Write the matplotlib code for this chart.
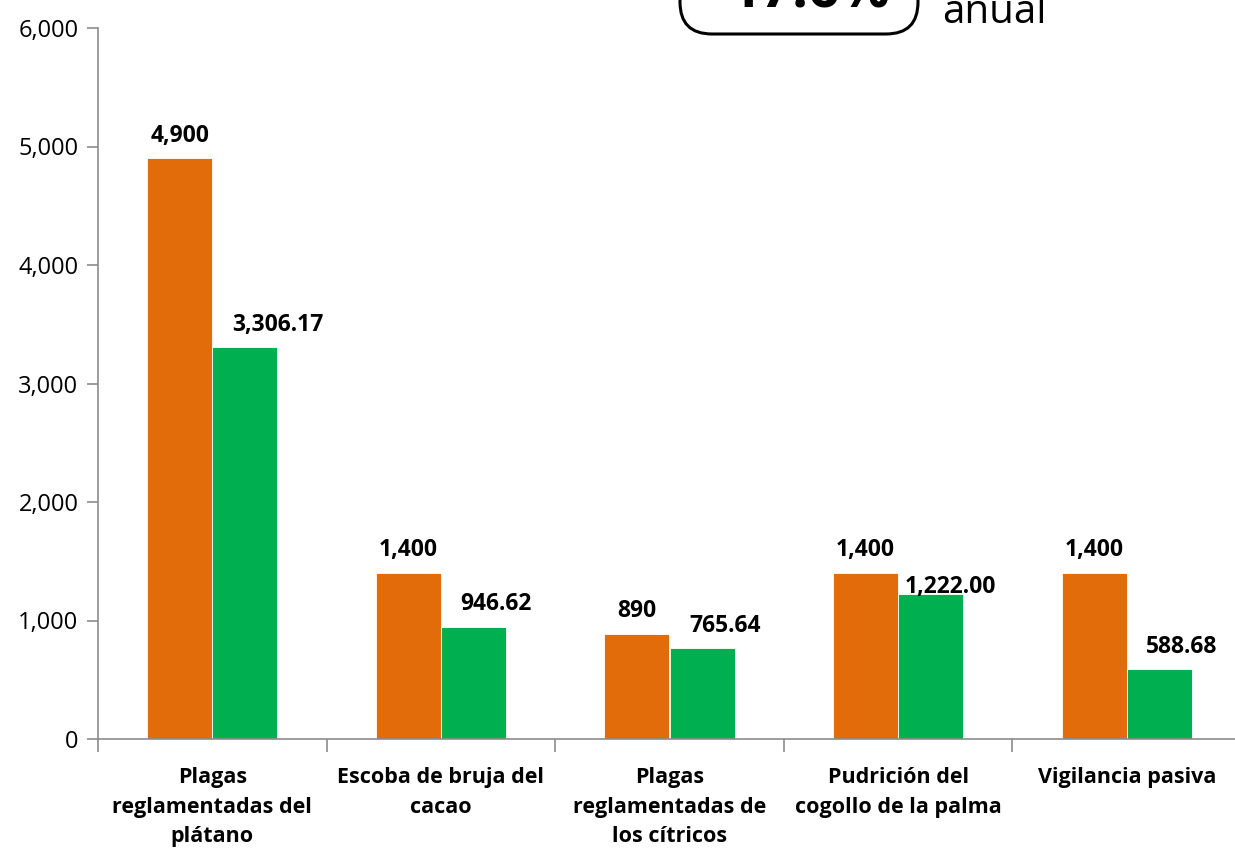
import numpy as np
import matplotlib
matplotlib.use("Agg")
import matplotlib.pyplot as plt
from matplotlib.patches import FancyBboxPatch

plt.rcParams['font.family'] = ['Open Sans', 'DejaVu Sans']

# Data
categorias = [
    "Plagas\nreglamentadas del\nplátano",
    "Escoba de bruja del\ncacao",
    "Plagas\nreglamentadas de\nlos cítricos",
    "Pudrición del\ncogollo de la palma",
    "Vigilancia pasiva",
]
programado = [4900, 1400, 890, 1400, 1400]
ejecutado = [3306.17, 946.62, 765.64, 1222.00, 588.68]
y_ticks = [0, 1000, 2000, 3000, 4000, 5000, 6000]
box_text = "17.6%"
side_text = "anual"

naranja = '#E36C0A'
verde = '#00B050'
gris = '#8c8c8c'

fig = plt.figure(figsize=(12.35, 8.51), dpi=100)
ax = fig.add_axes([98 / 1235, 1 - 739 / 851, 1143 / 1235, 711 / 851])

x = np.arange(len(categorias))
w = 0.285
ax.bar(x - w / 2, programado, width=w, color=naranja, edgecolor='white', linewidth=0.6)
ax.bar(x + w / 2, ejecutado, width=w, color=verde, edgecolor='white', linewidth=0.6)

# Value labels
for xi, v in zip(x, programado):
    ax.annotate(f"{v:,.0f}", (xi - w / 2, v), xytext=(0, 12), textcoords='offset points',
                ha='center', va='baseline', fontsize=16.5, fontweight='bold')
for i, (xi, v) in enumerate(zip(x, ejecutado)):
    dy = 1 if i == 3 else 12
    dx = 5 if i == 3 else 14
    ax.annotate(f"{v:,.2f}", (xi, v), xytext=(dx, dy), textcoords='offset points',
                ha='left', va='baseline', fontsize=16.5, fontweight='bold')

ax.set_xlim(-0.5, len(categorias) - 0.5)
ax.set_ylim(0, 6000)
ax.set_yticks(y_ticks)
ax.set_yticklabels([f"{t:,}" for t in y_ticks], fontsize=17)

ax.set_xticks(np.arange(-0.5, len(categorias), 1.0))
ax.set_xticklabels([])
ax.set_xticks(x, minor=True)
ax.set_xticklabels(categorias, minor=True, fontsize=15.5, fontweight='bold', linespacing=1.55)
ax.tick_params(axis='x', which='minor', length=0, pad=20)
ax.tick_params(axis='x', which='major', length=9, width=1.2, color=gris, direction='out')
ax.tick_params(axis='y', length=8, width=1.2, color=gris, direction='out', pad=6)

for s in ['top', 'right']:
    ax.spines[s].set_visible(False)
for s in ['left', 'bottom']:
    ax.spines[s].set_color(gris)
    ax.spines[s].set_linewidth(1.2)

# Rounded box at the top (cut off by the figure edge)
box = FancyBboxPatch((6.80, 8.17), 2.38, 0.9, boxstyle="round,pad=0,rounding_size=0.32",
                     transform=fig.dpi_scale_trans, facecolor='white', edgecolor='black',
                     linewidth=2.2, clip_on=False)
fig.patches.append(box)
fig.text(8.10, 8.43, box_text, transform=fig.dpi_scale_trans, ha='center', va='baseline',
         fontsize=40, fontweight='bold')
fig.text(9.42, 8.28, side_text, transform=fig.dpi_scale_trans, ha='left', va='baseline',
         fontsize=29)

fig.savefig("out.png", dpi=100)
